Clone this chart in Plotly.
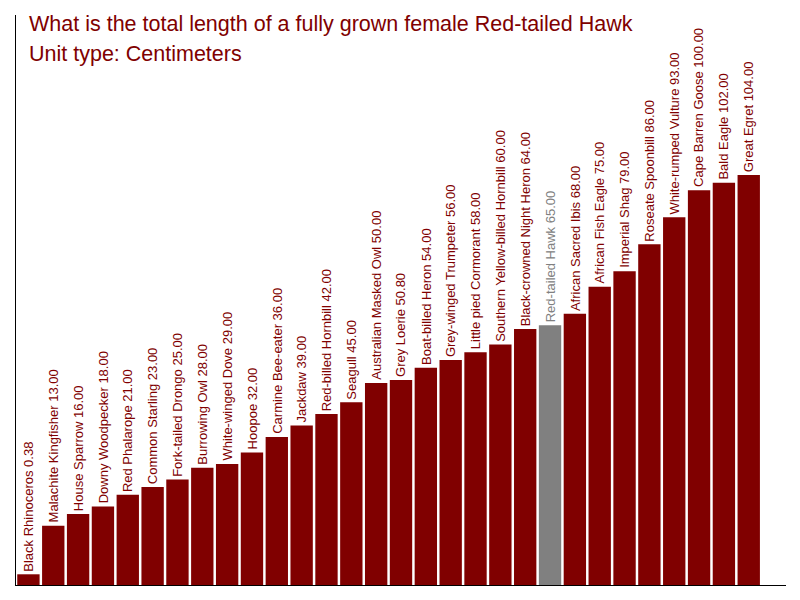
import plotly.graph_objects as go

# dati
birds = ["Black Rhinoceros", "Malachite Kingfisher", "House Sparrow", "Downy Woodpecker",
         "Red Phalarope", "Common Starling", "Fork-tailed Drongo", "Burrowing Owl",
         "White-winged Dove", "Hoopoe", "Carmine Bee-eater", "Jackdaw",
         "Red-billed Hornbill", "Seagull", "Australian Masked Owl", "Grey Loerie",
         "Boat-billed Heron", "Grey-winged Trumpeter", "Little pied Cormorant",
         "Southern Yellow-billed Hornbill", "Black-crowned Night Heron", "Red-tailed Hawk",
         "African Sacred Ibis", "African Fish Eagle", "Imperial Shag", "Roseate Spoonbill",
         "White-rumped Vulture", "Cape Barren Goose", "Bald Eagle", "Great Egret"]
lengths = [0.38, 13, 16, 18, 21, 23, 25, 28, 29, 32, 36, 39, 42, 45, 50, 50.8, 54, 56, 58,
           60, 64, 65, 68, 75, 79, 86, 93, 100, 102, 104]
highlight = "Red-tailed Hawk"

title_line1 = "What is the total length of a fully grown female Red-tailed Hawk"
title_line2 = "Unit type: Centimeters"

RED = "#800000"
GREY = "#808080"
Y0 = -2.4  # l'asse parte un po' sotto lo zero

colors = [GREY if b == highlight else RED for b in birds]

fig = go.Figure()
fig.add_trace(go.Bar(
    x=birds,
    y=[v - Y0 for v in lengths],
    base=Y0,
    marker=dict(color=colors, line=dict(width=0)),
    hoverinfo="skip",
))

# etichette verticali sopra le barre
for b, v, c in zip(birds, lengths, colors):
    fig.add_annotation(
        x=b, y=v, text=f"{b} {v:.2f}", textangle=-90,
        showarrow=False, xanchor="center", yanchor="bottom", yshift=1,
        font=dict(family="Liberation Sans, Arial", size=13, color=c),
    )

# titolo su due righe
fig.add_annotation(xref="paper", yref="paper", x=11 / 770, y=1.0, yshift=5,
                   text=title_line1, showarrow=False, xanchor="left", yanchor="top",
                   font=dict(family="Liberation Sans, Arial", size=21.5, color=RED))
fig.add_annotation(xref="paper", yref="paper", x=11 / 770, y=1.0, yshift=-25,
                   text=title_line2, showarrow=False, xanchor="left", yanchor="top",
                   font=dict(family="Liberation Sans, Arial", size=21.5, color=RED))

# margini compensati per gli 8px di margine del body
fig.update_layout(
    width=800, height=600,
    margin=dict(l=8, r=22, t=7, b=23),
    plot_bgcolor="white", paper_bgcolor="white",
    bargap=0.1,
    showlegend=False,
)
fig.update_xaxes(showticklabels=False, ticks="", showgrid=False, zeroline=False,
                 showline=True, linecolor="black", linewidth=1, range=[-0.5, 30.5])
fig.update_yaxes(showticklabels=False, ticks="", showgrid=False, zeroline=False,
                 showline=True, linecolor="black", linewidth=1, range=[Y0, 145.5])

fig.write_html("out.html")
